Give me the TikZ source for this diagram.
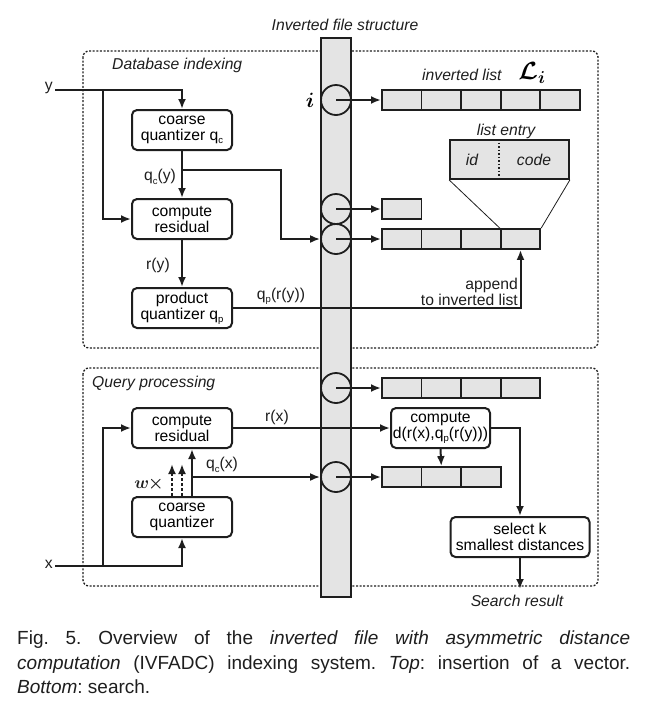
\documentclass[tikz,border=0pt]{standalone}
\usepackage{amsmath}
\usepackage{bm}
\usepackage{fontspec}
\setmainfont{Liberation Sans}
\usetikzlibrary{arrows.meta,calc}
\newcommand\qsub[1]{q\raisebox{-0.4ex}{\fontsize{9.5}{9.5}\selectfont #1}}
\definecolor{ink}{HTML}{1E1E1E}
\definecolor{cellgray}{HTML}{E4E4E4}
\begin{document}
\begin{tikzpicture}[x=1pt,y=-1pt,
  ln/.style={line width=2pt, draw=ink},
  arr/.style={ln, -{Latex[length=10pt,width=8pt]}},
  darr/.style={arr, dash pattern=on 3pt off 2pt},
  procbox/.style={draw=ink, line width=2pt, rounded corners=5pt, fill=white,
    minimum width=100pt, minimum height=40pt, align=center, inner sep=1pt,
    font=\fontsize{15.7}{16}\selectfont},
  cellbox/.style={draw=ink, line width=1.8pt, fill=cellgray, minimum width=39.6pt,
    minimum height=20pt, inner sep=0pt, anchor=west},
  slot/.style={circle, draw=ink, line width=1.8pt, minimum size=30pt, inner sep=0pt},
  lbl/.style={font=\fontsize{15.7}{16}\selectfont, inner sep=0pt, text=ink},
  ilbl/.style={font=\fontsize{15.7}{16}\selectfont\itshape, inner sep=0pt, text=ink},
  region/.style={draw=ink, line width=1.3pt, dash pattern=on 2pt off 1.6pt, rounded corners=6pt}
]
\useasboundingbox (0,0) rectangle (655,721);

% regions
\draw[region] (83,51) rectangle (598,348);
\draw[region] (83,368) rectangle (598,586);
\node[ilbl, anchor=west] (dbi) at (112,65) {Database indexing};
\node[ilbl, anchor=west] (qpr) at (92,383) {Query processing};

% inverted file bar
\node[ilbl] (ifs) at (345,25) {Inverted file structure};
\node[draw=ink, line width=2pt, fill=cellgray, minimum width=30pt, minimum height=559pt, inner sep=0pt] (bar) at (336,317.5) {};

% slots
\node[slot] (s1) at (336,100) {};
\node[slot] (s2) at (336,209) {};
\node[slot] (s3) at (336,239) {};
\node[slot] (s4) at (336,388) {};
\node[slot] (s5) at (336,477) {};
\node[inner sep=0pt] (ilab) at (310,100) {\fontsize{22}{22}\selectfont$\bm{i}$};

% lists
\foreach \k in {0,...,4} \node[cellbox] (la\k) at ({381+\k*39.6},100) {};
\node[cellbox] (lb0) at (381,209) {};
\foreach \k in {0,...,3} \node[cellbox] (lc\k) at ({381+\k*39.6},239) {};
\foreach \k in {0,...,3} \node[cellbox] (ld\k) at ({381+\k*39.6},388) {};
\foreach \k in {0,...,2} \node[cellbox] (le\k) at ({381+\k*39.6},477) {};

\draw[arr] (s1.center) -- (la0.west);
\draw[arr] (s2.center) -- (lb0.west);
\draw[arr] (s3.center) -- (lc0.west);
\draw[arr] (s4.center) -- (ld0.west);
\draw[arr] (s5.center) -- (le0.west);

\node[ilbl, anchor=west] (invl) at (422,75) {inverted list};
\node[inner sep=0pt] (Li) at (532,73) {\fontsize{24}{24}\selectfont$\bm{\mathcal{L}_i}$};

% list entry
\node[draw=ink, line width=1.8pt, fill=cellgray, minimum width=119pt, minimum height=39pt, inner sep=0pt] (entry) at (509.5,159.5) {};
\draw[ink, line width=1.5pt, dotted] (entry.north west) ++(50,0) -- ++(0,39);
\node[ilbl] (idl) at (472,160) {id};
\node[ilbl] (codel) at (534,160) {code};
\node[ilbl] (entl) at (506,131) {list entry};
\draw[ink, line width=0.8pt] (entry.south west) -- (lc3.north west);
\draw[ink, line width=0.8pt] (entry.south east) -- (lc3.north east);

% database indexing
\node[lbl, anchor=east] (ylab) at (53,88) {y};
\coordinate (yst) at (55,90);
\coordinate (yb) at (103,90);
\node[procbox] (cq) at (182,130) {coarse\\quantizer \qsub{c}};
\node[procbox] (cr) at (182,219) {compute\\residual};
\node[procbox] (pq) at (182,308) {product\\quantizer \qsub{p}};
\draw[arr] (yst) -| (cq.north);
\draw[arr] (yb) |- (cr.west);
\draw[arr] (cq.south) -- (cr.north);
\coordinate (qcb) at (182,170);
\coordinate (qct) at (281,170);
\draw[arr] (qcb) -- (qct) |- (s3.west);
\node[lbl] (qcyl) at (160,177) {\qsub{c}(y)};
\draw[arr] (cr.south) -- (pq.north);
\node[lbl] (ryl) at (158,265) {r(y)};
\draw[arr] (pq.east) -| (lc3.south);
\node[lbl] (qpl) at (281,296) {\qsub{p}(r(y))};
\node[lbl, anchor=east, align=right] (appl) at (518,292) {append\\to inverted list};

% query processing
\node[procbox] (qcr) at (182,428) {compute\\residual};
\node[procbox] (qcq) at (182,517) {coarse\\quantizer};
\node[lbl, anchor=east] (xlab) at (53,564) {x};
\coordinate (xst) at (55,566);
\coordinate (xb) at (103,566);
\draw[arr] (xst) -| (qcq.south);
\draw[arr] (xb) |- (qcr.west);
\draw[arr] ([xshift=10pt]qcq.north) -- ([xshift=10pt]qcr.south);
\coordinate (qxb) at (192,477);
\draw[arr] (qxb) -- (s5.west);
\draw[darr] ([xshift=-10pt]qcq.north) -- ++(0,-32);
\draw[darr] ([xshift=0pt]qcq.north) -- ++(0,-32);
\node[lbl] (wl) at (149,484) {\fontsize{19}{19}\selectfont$\bm{w}\mkern-1mu\bm{\times}$};
\node[lbl] (qcxl) at (222,465) {\qsub{c}(x)};

\node[procbox, minimum width=99pt, inner sep=0pt] (cd) at (440.5,428) {compute\\d(r(x),\qsub{p}(r(y)))};
\draw[arr] (qcr.east) -- (cd.west);
\node[lbl] (rxl) at (277,417) {r(x)};
\draw[arr] (cd.south) -- (le1.north);
\node[procbox, minimum width=139pt] (sel) at (520,537) {select k\\smallest distances};
\draw[arr] (cd.east) -| (sel.north);
\coordinate (res) at (520,589);
\draw[arr] (sel.south) -- (res);
\node[ilbl] (resl) at (517,601) {Search result};

% caption
\node[anchor=north west, inner sep=0pt, text width=613pt, align=justify, text=ink,
  font=\fontsize{19}{24.5}\selectfont] (cap) at (17,631) {\hyphenpenalty=10000\frenchspacing
Fig. 5. Overview of the \textit{inverted file with asymmetric distance}\linebreak
\textit{computation} (IVFADC) indexing system. \textit{Top}: insertion of a vector.\linebreak
\textit{Bottom}: search.};
\end{tikzpicture}
\end{document}
